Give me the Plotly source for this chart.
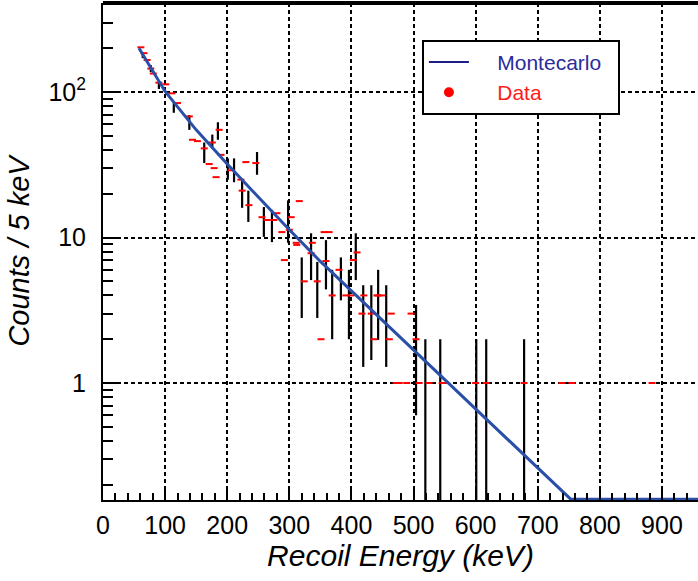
import plotly.graph_objects as go

# Montecarlo curve (Recoil energy keV, counts / 5 keV)
mc_energy = [58, 100, 150, 200, 250, 300, 350, 400, 450, 500, 550, 600, 650, 700, 753, 958]
mc_counts = [200, 101, 55, 32, 19, 11.3, 6.85, 4.3, 2.69, 1.69, 1.06, 0.66, 0.42, 0.26, 0.159, 0.159]

# Data points
data_energy = [61, 66, 71, 77, 81, 90, 101, 111, 120, 139, 144, 152, 163, 171, 176, 179, 182, 187, 190,
               206, 222, 224, 230, 235, 246, 256, 264, 275, 280, 288, 292, 300, 303, 311, 312, 316,
               324, 335, 337, 345, 351, 356, 359, 364, 369, 380, 391, 399, 403, 409, 417, 420, 432,
               436, 441, 443, 449, 461, 464, 472, 477, 489, 496, 504, 509, 525, 546, 552, 600, 617,
               678, 739, 755, 884]
data_counts = [203, 185, 166, 145, 134, 116, 113, 98, 84, 68, 47, 46, 41, 32, 45, 30, 26, 55, 37,
               29, 25, 21, 33, 16.7, 32.5, 13.8, 13.2, 13.2, 14.7, 10.9, 7.0, 11.3, 13.8, 9.2, 8.9, 17.8,
               5.0, 7.8, 9.2, 5.0, 2.0, 10.9, 6.9, 10.9, 4.0, 6.0, 4.0, 4.0, 7.0, 7.9, 3.0, 4.0, 3.0,
               2.0, 4.0, 4.0, 4.0, 2.0, 3.0, 1, 1, 1, 3.0, 2.0, 1, 1, 1, 1, 1, 1,
               1, 1, 1, 1]

# Error bars (energy, lower, upper)
bar_energy = [64, 77, 90, 114, 139, 163, 176, 185, 201, 211, 224, 234, 248, 259, 272, 298, 320, 335,
              345, 359, 369, 383, 396, 407, 419, 432, 443, 456, 504, 519, 543, 601, 617, 678]
bar_low = [171, 137, 105, 72, 55, 32.5, 41, 47, 25, 24, 16, 12.8, 27, 10.1, 9.3, 9.2, 2.8, 5.1,
           2.8, 4.4, 2.0, 3.7, 2.0, 5.1, 1.29, 1.44, 1.98, 1.29, 0.6, 0.1, 0.1, 0.1, 0.1, 0.1]
bar_high = [188, 153, 117, 85, 69.5, 45, 51, 62, 35, 35, 25, 21, 38.7, 16.2, 15.5, 18, 7.3, 10.7,
            6.8, 9.6, 6.0, 7.3, 6.0, 10.7, 4.7, 4.7, 6.0, 4.7, 3.44, 2, 2, 2, 2, 2]

x_ticks = [0, 100, 200, 300, 400, 500, 600, 700, 800, 900]
y_ticks = [1, 10, 100]
y_ticktext = ["1", "10", "10<sup>2</sup>"]
y_minor = [m * 10 ** d for d in (-1, 0, 1, 2) for m in range(2, 10)]

FONT = "Liberation Sans, Arial, Helvetica, sans-serif"

bx, by = [], []
for e, lo, hi in zip(bar_energy, bar_low, bar_high):
    bx += [e, e, None]
    by += [lo, hi, None]

fig = go.Figure()
fig.add_trace(go.Scatter(x=bx, y=by, mode="lines", line=dict(color="black", width=2.2),
                         showlegend=False, hoverinfo="skip"))
fig.add_trace(go.Scatter(x=data_energy, y=data_counts, mode="markers", showlegend=False,
                         marker=dict(symbol="line-ew", size=5, color="red",
                                     line=dict(color="red", width=2))))
fig.add_trace(go.Scatter(x=mc_energy, y=mc_counts, mode="lines", showlegend=False,
                         line=dict(color="#2a4fa8", width=3)))
# legend entries
fig.add_trace(go.Scatter(x=[None], y=[None], mode="lines",
                         name="&nbsp;&nbsp;&nbsp;&nbsp;<span style='color:#2b2b9c'>Montecarlo</span>&nbsp;&nbsp;",
                         line=dict(color="#1c1c8c", width=2)))
fig.add_trace(go.Scatter(x=[None], y=[None], mode="markers",
                         name="&nbsp;&nbsp;&nbsp;&nbsp;<span style='color:#ff1a1a'>Data</span>",
                         marker=dict(symbol="circle", size=10, color="red")))

fig.update_layout(
    width=698, height=581,
    margin=dict(l=103, r=0, t=3, b=81),
    paper_bgcolor="white", plot_bgcolor="white",
    font=dict(family=FONT, color="black"),
    legend=dict(x=0.536, y=0.926, xanchor="left", yanchor="top",
                bgcolor="white", bordercolor="black", borderwidth=2,
                font=dict(size=21, family=FONT), tracegroupgap=0,
                itemwidth=40),
    shapes=[dict(type="line", xref="paper", yref="paper", x0=0, x1=1, y0=1, y1=1,
                 line=dict(color="black", width=4))],
)
fig.update_xaxes(
    range=[0, 958], tickvals=x_ticks, ticks="inside", ticklen=14, tickwidth=2, tickcolor="black",
    showline=True, linecolor="black", linewidth=2,
    showgrid=True, gridcolor="black", gridwidth=1.5, griddash="4px,3px",
    zeroline=False, tickfont=dict(size=25, family=FONT), ticklabelstandoff=2,
    minor=dict(dtick=20, tick0=0, ticks="inside", ticklen=7, tickwidth=2, tickcolor="black", showgrid=False),
    title=dict(text="<i>Recoil Energy (keV)</i>", font=dict(size=30, family=FONT), standoff=6),
)
fig.update_yaxes(
    type="log", range=[-0.804, 2.612], tickvals=y_ticks, ticktext=y_ticktext,
    ticks="inside", ticklen=16, tickwidth=2, tickcolor="black",
    showline=True, linecolor="black", linewidth=2,
    showgrid=True, gridcolor="black", gridwidth=1.5, griddash="4px,3px",
    zeroline=False, tickfont=dict(size=25, family=FONT), ticklabelstandoff=10,
    minor=dict(tickmode="array", tickvals=y_minor, ticks="inside", ticklen=10, tickwidth=2,
               tickcolor="black", showgrid=False),
    title=dict(text="<i>Counts / 5 keV</i>", font=dict(size=29, family=FONT), standoff=10),
)

fig.write_html("out.html", config={"displayModeBar": False},
               post_script="document.body.style.margin='0';")
